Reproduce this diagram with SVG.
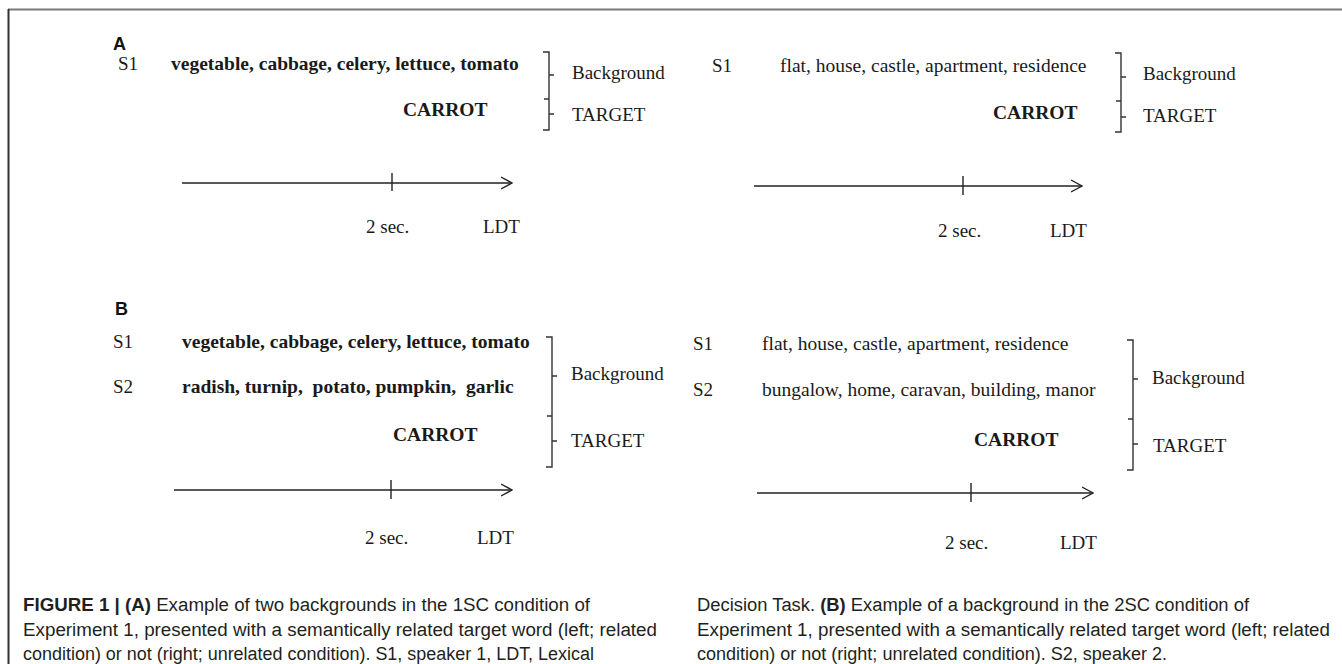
<svg xmlns="http://www.w3.org/2000/svg" width="1342" height="664" viewBox="0 0 1342 664">
<style>
.t{font-family:"Liberation Serif","Times New Roman",serif;font-size:19px;fill:#1a1a1a}
.l{font-family:"Liberation Serif","Times New Roman",serif;font-size:19.5px;fill:#1a1a1a}
.b{font-weight:bold}
.lab{font-family:"Liberation Sans",Arial,sans-serif;font-weight:bold;font-size:18px;fill:#111}
.cap{font-family:"Liberation Sans Narrow","Liberation Sans",Arial,sans-serif;font-size:18px;fill:#231f20}
.br{fill:none;stroke:#333;stroke-width:1.4}
.ax{fill:none;stroke:#222;stroke-width:1.4}
</style>
<defs>
<marker id="ah" viewBox="0 0 12 14" refX="11" refY="7" markerWidth="12" markerHeight="14" markerUnits="userSpaceOnUse" orient="auto">
<path d="M0,1 L11,7 L0,13" fill="none" stroke="#222" stroke-width="1.4"/>
</marker>
</defs>
<rect width="1342" height="664" fill="#fff"/>
<g id="frame">
<line x1="8" y1="9.5" x2="1342" y2="9.5" stroke="#7a7a7a" stroke-width="2"/>
<line x1="8.5" y1="9" x2="8.5" y2="664" stroke="#333" stroke-width="2"/>
</g>
<g id="panelA-left">
<text class="lab" x="113" y="50">A</text>
<text class="t" x="118" y="70">S1</text>
<text class="l b" x="171" y="70">vegetable, cabbage, celery, lettuce, tomato</text>
<text class="l b" x="403" y="116">CARROT</text>
<path class="br" d="M543,52 H549 V130 H543 M544,99 H549 M549,75 H554 M549,114 H554"/>
<text class="t" x="572" y="79">Background</text>
<text class="t" x="572" y="121">TARGET</text>
<text class="t" x="366" y="233">2 sec.</text>
<text class="t" x="483" y="233">LDT</text>
</g>
<g id="panelA-right">
<text class="t" x="712" y="72">S1</text>
<text class="l" x="780" y="72" xml:space="preserve">flat, house, castle, apartment, residence</text>
<text class="l b" x="993" y="119">CARROT</text>
<path class="br" d="M1115,53 H1121 V132 H1115 M1116,101 H1121 M1121,77 H1126 M1121,117 H1126"/>
<text class="t" x="1143" y="80">Background</text>
<text class="t" x="1143" y="122">TARGET</text>
<text class="t" x="938" y="237">2 sec.</text>
<text class="t" x="1050" y="237">LDT</text>
</g>
<g id="panelB-left">
<text class="lab" x="115" y="315">B</text>
<text class="t" x="113" y="348">S1</text>
<text class="l b" x="182" y="348">vegetable, cabbage, celery, lettuce, tomato</text>
<text class="t" x="113" y="393">S2</text>
<text class="l b" x="182" y="393" xml:space="preserve">radish, turnip,  potato, pumpkin,  garlic</text>
<text class="l b" x="393" y="441">CARROT</text>
<path class="br" d="M546,337 H552 V467 H546 M547,416 H552 M552,376 H557 M552,441 H557"/>
<text class="t" x="571" y="380">Background</text>
<text class="t" x="571" y="447">TARGET</text>
<text class="t" x="365" y="544">2 sec.</text>
<text class="t" x="477" y="544">LDT</text>
</g>
<g id="panelB-right">
<text class="t" x="693" y="350">S1</text>
<text class="l" x="762" y="350" xml:space="preserve">flat, house, castle, apartment, residence</text>
<text class="t" x="693" y="396">S2</text>
<text class="l" x="762" y="396">bungalow, home, caravan, building, manor</text>
<text class="l b" x="974" y="446">CARROT</text>
<path class="br" d="M1127,340 H1133 V470 H1127 M1128,419 H1133 M1133,379 H1138 M1133,444 H1138"/>
<text class="t" x="1152" y="384">Background</text>
<text class="t" x="1153" y="452">TARGET</text>
<text class="t" x="945" y="549">2 sec.</text>
<text class="t" x="1060" y="549">LDT</text>
</g>
<g id="connectors">
<line class="ax" x1="182" y1="183" x2="512" y2="183" marker-end="url(#ah)"/>
<line class="ax" x1="392" y1="173" x2="392" y2="191"/>
<line class="ax" x1="754" y1="186" x2="1082" y2="186" marker-end="url(#ah)"/>
<line class="ax" x1="963" y1="176" x2="963" y2="195"/>
<line class="ax" x1="174" y1="490" x2="512" y2="490" marker-end="url(#ah)"/>
<line class="ax" x1="391" y1="480" x2="391" y2="499"/>
<line class="ax" x1="757" y1="493" x2="1093" y2="493" marker-end="url(#ah)"/>
<line class="ax" x1="971" y1="483" x2="971" y2="502"/>
</g>
<g id="caption">
<text class="cap" x="23" y="611" textLength="567" lengthAdjust="spacingAndGlyphs"><tspan font-weight="bold">FIGURE 1 | (A)</tspan> Example of two backgrounds in the 1SC condition of</text>
<text class="cap" x="23" y="636" textLength="634" lengthAdjust="spacingAndGlyphs">Experiment 1, presented with a semantically related target word (left; related</text>
<text class="cap" x="23" y="660" textLength="571" lengthAdjust="spacingAndGlyphs">condition) or not (right; unrelated condition). S1, speaker 1, LDT, Lexical</text>
<text class="cap" x="697" y="611" textLength="552" lengthAdjust="spacingAndGlyphs">Decision Task. <tspan font-weight="bold">(B)</tspan> Example of a background in the 2SC condition of</text>
<text class="cap" x="697" y="636" textLength="633" lengthAdjust="spacingAndGlyphs">Experiment 1, presented with a semantically related target word (left; related</text>
<text class="cap" x="697" y="660" textLength="470" lengthAdjust="spacingAndGlyphs">condition) or not (right; unrelated condition). S2, speaker 2.</text>
</g>
</svg>
